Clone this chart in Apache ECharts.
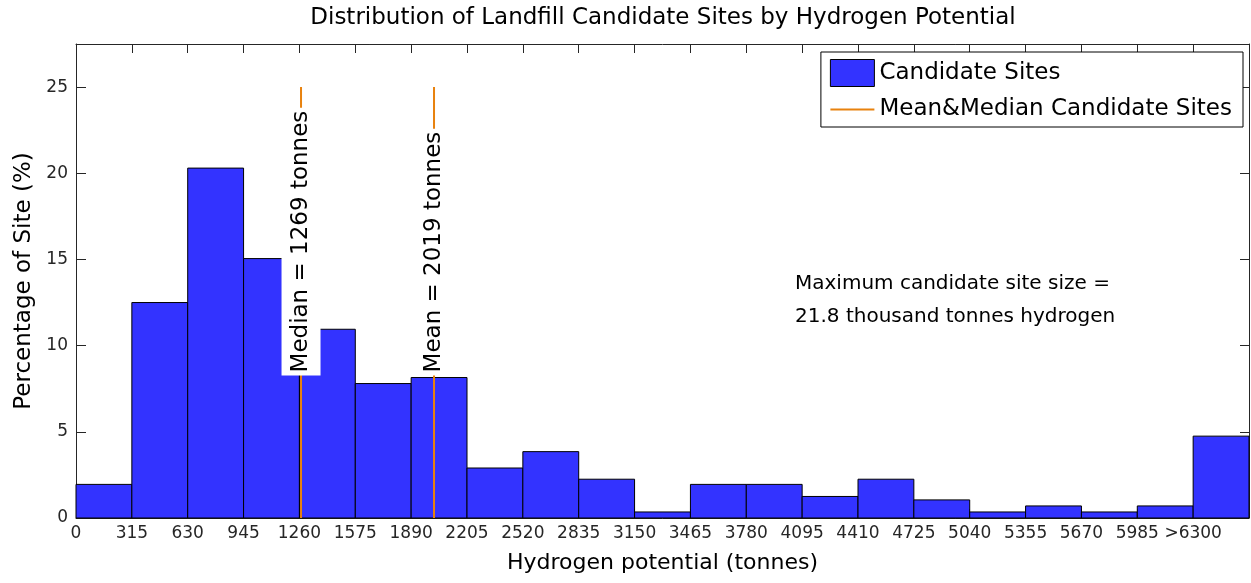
<!DOCTYPE html>
<html>
<head>
<meta charset="utf-8">
<title>Distribution of Landfill Candidate Sites by Hydrogen Potential</title>
<script src="https://cdn.jsdelivr.net/npm/echarts@6/dist/echarts.min.js"></script>
<style>
html, body { margin: 0; padding: 0; background: #fff; }
#chart { width: 1251px; height: 583px; }
</style>
</head>
<body>
<div id="chart"></div>
<script>
// histogram bin edges in tonnes (last bin holds everything above 6300)
var binEdges = [0, 315, 630, 945, 1260, 1575, 1890, 2205, 2520, 2835, 3150, 3465,
    3780, 4095, 4410, 4725, 5040, 5355, 5670, 5985, 6300, 6615];
// percentage of sites falling in each bin
var sitePercent = [1.95, 12.5, 20.3, 15.05, 10.95, 7.8, 8.15, 2.9, 3.85, 2.25, 0.35,
    1.95, 1.95, 1.25, 2.25, 1.05, 0.35, 0.7, 0.35, 0.7, 4.75];
var medianTonnes = 1269;
var meanTonnes = 2019;
var markerTop = 25;       // marker lines run from 0 up to this percentage
var markerLabelAt = 8.27; // labels start at this percentage

var font = '"DejaVu Sans", "Liberation Sans", Arial, sans-serif';
var axisColor = '#262626';
var blue = '#3333ff';
var orange = '#e8820e';

var histData = sitePercent.map(function (v, i) {
    return [binEdges[i], binEdges[i + 1], v];
});

function markerLabel(text) {
    return {
        show: true,
        position: 'inside',
        rotate: 90,
        align: 'left',
        verticalAlign: 'middle',
        formatter: text,
        fontSize: 23,
        color: '#000',
        backgroundColor: '#fff',
        padding: [8, 3, 8, 3]
    };
}

// secondary axes only draw the box and the inside ticks (matlab style)
function boxAxis(extra) {
    return Object.assign({
        type: 'value',
        axisLine: { show: true, onZero: false, lineStyle: { color: axisColor } },
        axisTick: { inside: true, length: 9, lineStyle: { color: axisColor } },
        axisLabel: { show: false },
        splitLine: { show: false }
    }, extra);
}

var chart = echarts.init(document.getElementById('chart'));
chart.setOption({
    animation: false,
    textStyle: { fontFamily: font },
    title: [{
        text: 'Distribution of Landfill Candidate Sites by Hydrogen Potential',
        left: 663, top: 7, textAlign: 'center', padding: 0,
        textStyle: { fontSize: 23, fontWeight: 'normal', color: '#000', fontFamily: font }
    }, {
        text: 'Maximum candidate site size =\n21.8 thousand tonnes hydrogen',
        left: 795, top: 267, padding: 0,
        textStyle: { fontSize: 20, lineHeight: 33, fontWeight: 'normal', color: '#000', fontFamily: font }
    }],
    legend: {
        orient: 'vertical',
        right: 8, top: 52,
        padding: [7, 11, 6, 9],
        itemWidth: 44, itemHeight: 27, itemGap: 11,
        borderColor: '#000', borderWidth: 1,
        backgroundColor: '#fff',
        textStyle: { fontSize: 23, color: '#000' },
        data: [
            { name: 'Candidate Sites', icon: 'rect',
              itemStyle: { color: blue, borderColor: '#000', borderWidth: 1 } },
            { name: 'Mean&Median Candidate Sites', icon: 'path://M0,0H44V2H0Z',
              itemStyle: { color: orange, borderWidth: 0 } }
        ]
    },
    grid: { left: 76, right: 2, top: 44, bottom: 65 },
    xAxis: [{
        type: 'value', min: 0, max: 6615, interval: 315,
        name: 'Hydrogen potential (tonnes)',
        nameLocation: 'middle', nameGap: 34,
        nameTextStyle: { fontSize: 22, color: '#000' },
        axisLine: { lineStyle: { color: axisColor } },
        axisTick: { inside: true, length: 9, lineStyle: { color: axisColor } },
        axisLabel: {
            fontSize: 17, color: axisColor, margin: 7, showMaxLabel: false,
            formatter: function (v) { return v === 6300 ? '>6300' : String(v); }
        },
        splitLine: { show: false }
    }, boxAxis({ position: 'top', min: 0, max: 6615, interval: 315 })],
    yAxis: [{
        type: 'value', min: 0, max: 27.5, interval: 5,
        name: 'Percentage of Site (%)',
        nameLocation: 'middle', nameGap: 39,
        nameTextStyle: { fontSize: 23, color: '#000' },
        axisLine: { show: true, lineStyle: { color: axisColor } },
        axisTick: { inside: true, length: 10, lineStyle: { color: axisColor } },
        axisLabel: { fontSize: 17, color: axisColor, margin: 8, showMaxLabel: false },
        splitLine: { show: false }
    }, boxAxis({ position: 'right', min: 0, max: 27.5, interval: 5 })],
    series: [{
        name: 'Candidate Sites',
        type: 'custom',
        data: histData,
        encode: { x: [0, 1], y: 2 },
        itemStyle: { color: blue },
        renderItem: function (params, api) {
            var p0 = api.coord([api.value(0), 0]);
            var p1 = api.coord([api.value(1), api.value(2)]);
            return {
                type: 'rect',
                shape: { x: p0[0], y: p1[1], width: p1[0] - p0[0], height: p0[1] - p1[1] },
                style: { fill: blue, stroke: '#000', lineWidth: 1 }
            };
        },
        z: 2
    }, {
        name: 'Mean&Median Candidate Sites',
        type: 'line',
        symbol: 'none',
        data: [[medianTonnes, 0], [medianTonnes, markerTop]],
        lineStyle: { color: orange, width: 2 },
        itemStyle: { color: orange },
        z: 3
    }, {
        name: 'Mean&Median Candidate Sites',
        type: 'line',
        symbol: 'none',
        data: [[meanTonnes, 0], [meanTonnes, markerTop]],
        lineStyle: { color: orange, width: 2 },
        itemStyle: { color: orange },
        z: 3
    }, {
        type: 'scatter',
        symbolSize: 0,
        silent: true,
        itemStyle: { opacity: 1 },
        data: [{ value: [medianTonnes, markerLabelAt], label: markerLabel('Median = ' + medianTonnes + ' tonnes') },
               { value: [meanTonnes, markerLabelAt], label: markerLabel('Mean = ' + meanTonnes + ' tonnes') }],
        z: 5
    }]
});
</script>
</body>
</html>
